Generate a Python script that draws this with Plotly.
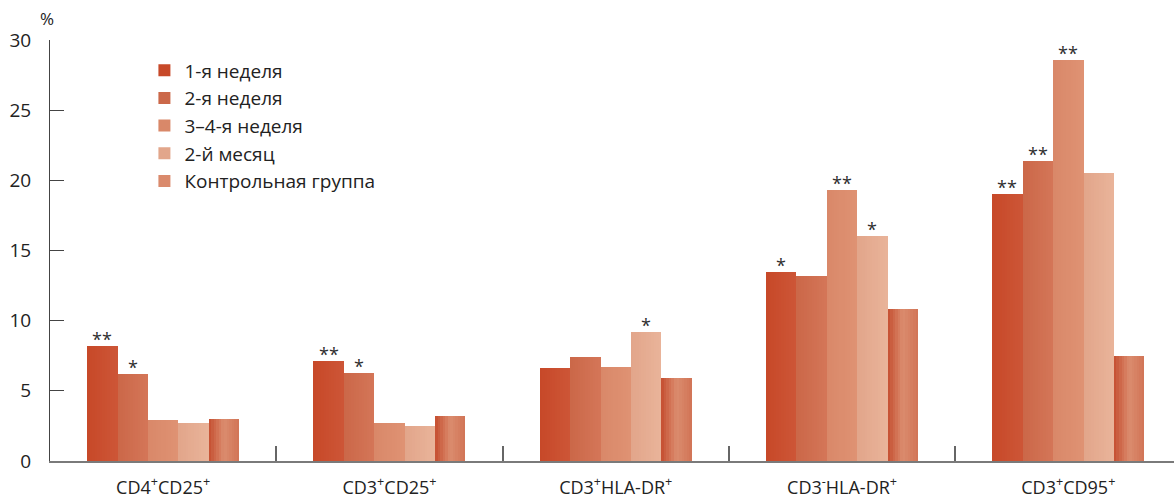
import plotly.graph_objects as go

# Categories (cell populations) and series values, %
categories = [
    "CD4<sup>+</sup>CD25<sup>+</sup>",
    "CD3<sup>+</sup>CD25<sup>+</sup>",
    "CD3<sup>+</sup>HLA-DR<sup>+</sup>",
    "CD3<sup>-</sup>HLA-DR<sup>+</sup>",
    "CD3<sup>+</sup>CD95<sup>+</sup>",
]
series_names = ["1-я неделя", "2-я неделя", "3–4-я неделя", "2-й месяц", "Контрольная группа"]

week1 = [8.2, 7.1, 6.6, 13.5, 19.0]
week2 = [6.2, 6.3, 7.4, 13.2, 21.4]
week3_4 = [2.9, 2.7, 6.7, 19.3, 28.6]
month2 = [2.7, 2.5, 9.2, 16.0, 20.5]
control = [3.0, 3.2, 5.9, 10.8, 7.5]

# Significance marks versus control
sig_week1 = ["**", "**", "", "*", "**"]
sig_week2 = ["*", "*", "", "", "**"]
sig_week3_4 = ["", "", "", "**", "**"]
sig_month2 = ["", "", "*", "*", ""]
sig_control = ["", "", "", "", ""]

values = [week1, week2, week3_4, month2, control]
marks = [sig_week1, sig_week2, sig_week3_4, sig_month2, sig_control]

# Horizontal colour stops for each series (left -> right across a bar)
color_stops = [
    [(199, 72, 40), (205, 86, 55)],
    [(203, 103, 72), (212, 118, 88)],
    [(217, 136, 105), (223, 146, 115)],
    [(226, 165, 138), (233, 180, 154)],
    [(197, 78, 48), (219, 140, 110), (209, 116, 86)],
]

FONT = "Open Sans"
BAR_W = 0.1344          # width of one bar in category units
GROUP_W = BAR_W * len(values)
N_SLICES = 12           # layered slices per bar, used to shade it


def lerp_color(stops, t):
    seg = (len(stops) - 1) * t
    i = min(int(seg), len(stops) - 2)
    f = seg - i
    a, b = stops[i], stops[i + 1]
    c = [round(a[k] + (b[k] - a[k]) * f) for k in range(3)]
    return "rgb({},{},{})".format(*c)


fig = go.Figure()

for s, (name, vals, stops) in enumerate(zip(series_names, values, color_stops)):
    left = -GROUP_W / 2 + s * BAR_W
    step = BAR_W / N_SLICES
    legend_slice = N_SLICES // 2 if s == len(values) - 1 else 0
    # each slice runs to the right edge of the bar; later slices cover earlier ones
    for k in range(N_SLICES):
        t = (k + 0.5) / N_SLICES
        fig.add_trace(go.Bar(
            x=categories,
            y=vals,
            name=name,
            legendgroup=name,
            legendrank=s + 1,
            showlegend=(k == legend_slice),
            width=[BAR_W - k * step] * len(categories),
            offset=[left + k * step] * len(categories),
            marker=dict(color=lerp_color(stops, t), line=dict(width=0)),
            hoverinfo="skip",
        ))

# Asterisks above bars
annotations = []
for s, (vals, sig) in enumerate(zip(values, marks)):
    centre = -GROUP_W / 2 + (s + 0.5) * BAR_W
    for j, (v, m) in enumerate(zip(vals, sig)):
        if m:
            annotations.append(dict(
                x=j + centre, y=v, xref="x", yref="y",
                text=m, showarrow=False, yanchor="bottom", yshift=-7,
                font=dict(family=FONT, size=18, color="#2e2e2e"),
            ))

annotations.append(dict(
    x=-0.003, y=1.05, xref="paper", yref="paper", text="%", showarrow=False,
    xanchor="center", yanchor="middle",
    font=dict(family=FONT, size=17, color="#222222"),
))

fig.update_layout(
    width=1174, height=501,
    margin=dict(l=50, r=0, t=40, b=40, autoexpand=False),
    paper_bgcolor="white", plot_bgcolor="white",
    barmode="overlay",
    bargap=0,
    font=dict(family=FONT, color="#222222"),
    showlegend=True,
    legend=dict(
        x=0.084, y=0.973, xanchor="left", yanchor="top",
        traceorder="grouped", tracegroupgap=0,
        font=dict(family=FONT, size=19, color="#222222"),
        bgcolor="rgba(0,0,0,0)",
    ),
    annotations=annotations,
    xaxis=dict(
        type="category",
        range=[-0.5, 4.467],
        automargin=False,
        showgrid=False, zeroline=False,
        showline=True, linecolor="#7a7a7a", linewidth=2,
        ticks="inside", tickson="boundaries", ticklen=15, tickwidth=1.5,
        tickcolor="#666666",
        ticklabelstandoff=9,
        tickfont=dict(family=FONT, size=18, color="#222222"),
    ),
    yaxis=dict(
        range=[0, 30],
        automargin=False,
        tickvals=[0, 5, 10, 15, 20, 25, 30],
        showgrid=False, zeroline=False,
        showline=True, linecolor="#444444", linewidth=1,
        ticks="inside", ticklen=14, tickwidth=1.2, tickcolor="#444444",
        ticklabelstandoff=14,
        tickfont=dict(family=FONT, size=19, color="#222222"),
    ),
)

fig.write_html("out.html")
